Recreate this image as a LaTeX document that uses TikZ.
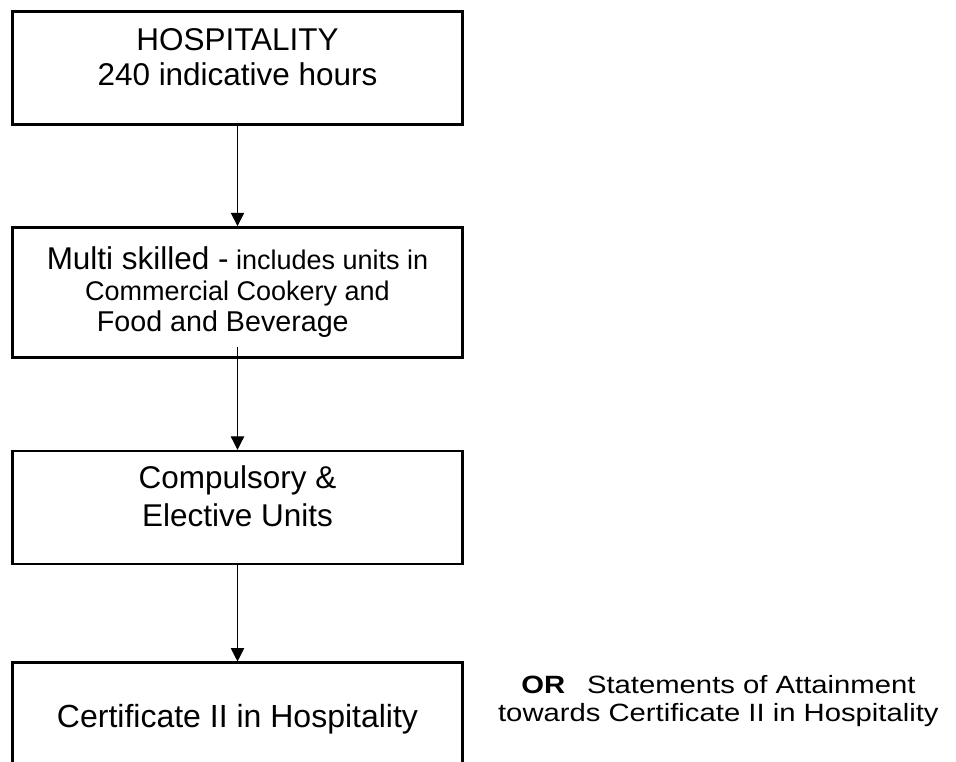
\documentclass[tikz,border=0pt]{standalone}
\usepackage{graphicx}
\usepackage{fontspec}
\setmainfont{Liberation Sans}
\usetikzlibrary{positioning, arrows.meta}

\begin{document}
\begin{tikzpicture}[x=0.75pt, y=0.75pt, node distance=72pt,
		box/.style={draw, line width=2pt, minimum width=337.5pt, minimum height=84.75pt, inner sep=0pt, align=center, font=\fontsize{23.6pt}{26.25pt}\selectfont},
		flow/.style={-{Triangle[length=10pt, width=10pt]}, line width=0.75pt}]
			\useasboundingbox (0,0) rectangle (956,-762);
			\node[box] at (237.5,-68.3) (hosp) {HOSPITALITY\\240 indicative hours\rule[-17pt]{0pt}{0pt}};
			\node[box, below=75pt of hosp, minimum height=97.5pt, font=\fontsize{20.25pt}{23.25pt}\selectfont] (multi) {{\fontsize{23.6pt}{23.25pt}\selectfont Multi skilled -} includes units in\\Commercial Cookery and\\{\fontsize{21.5pt}{23.25pt}\selectfont Food and Beverage\hspace*{22pt}}};
			\node[box, below=68.25pt of multi, font=\fontsize{23.6pt}{28.5pt}\selectfont] (units) {Compulsory \&\\Elective Units\rule[-18pt]{0pt}{0pt}};
			\node[box, below=72pt of units, font=\fontsize{24pt}{27pt}\selectfont] (cert) {Certificate II in Hospitality};

			\draw[flow] (hosp) -- (multi);
			\draw[flow, shorten <=-9pt] (multi) -- (units);
			\draw[flow] (units) -- (cert);

			\node[right=25.5pt of cert, yshift=13.5pt, inner sep=0pt, align=center, font=\fontsize{18.75pt}{21pt}\selectfont] (soa) {\scalebox{1.17}[1]{\textbf{OR}\hspace{0.75em}Statements of Attainment}\\\scalebox{1.17}[1]{towards Certificate II in Hospitality}};
		\end{tikzpicture}
\end{document}
